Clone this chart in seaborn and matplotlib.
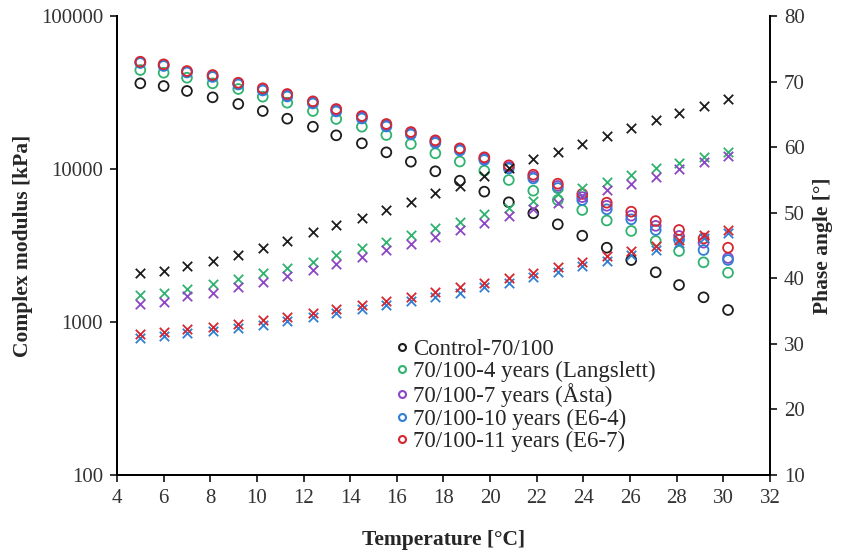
import matplotlib
matplotlib.use("Agg")
import matplotlib.pyplot as plt
from matplotlib.lines import Line2D
from matplotlib.ticker import FixedLocator, NullLocator, FixedFormatter
import seaborn as sns
import pandas as pd

# ---------------- data ----------------
temperature = [5.0, 6.0, 7.0, 8.1, 9.2, 10.25, 11.3, 12.4, 13.4, 14.5, 15.55, 16.6, 17.65,
               18.7, 19.75, 20.8, 21.85, 22.9, 23.95, 25.0, 26.05, 27.1, 28.1, 29.15, 30.2]

series_names = ["Control-70/100", "70/100-4 years (Langslett)", "70/100-7 years (Åsta)",
                "70/100-10 years (E6-4)", "70/100-11 years (E6-7)"]

mod_control = [36300, 34860, 32360, 29400, 26600, 23930, 21320, 18900, 16600, 14720, 12850, 11160, 9660,
               8385, 7110, 6060, 5135, 4350, 3665, 3060, 2540, 2113, 1745, 1450, 1198]
mod_4y = [44360, 42600, 39500, 36300, 33340, 29690, 27130, 23930, 21230, 18900, 16680, 14570, 12670,
          11190, 9750, 8475, 7215, 6270, 5395, 4607, 3935, 3383, 2911, 2455, 2100]
mod_7y = [49800, 47700, 43200, 40500, 36100, 33100, 30300, 27200, 24200, 21800, 19300, 17100, 15100,
          13400, 11700, 10300, 8900, 7750, 6550, 5750, 4950, 4250, 3650, 3300, 2620]
mod_10y = [49290, 47120, 42730, 39940, 35670, 32600, 29780, 26810, 23760, 21390, 18960, 16810, 14790,
           13210, 11460, 10080, 8670, 7510, 6270, 5452, 4691, 3994, 3436, 2955, 2542]
mod_11y = [50270, 48330, 43700, 41150, 36640, 33680, 30920, 27700, 24680, 22200, 19690, 17450, 15400,
           13650, 11930, 10570, 9180, 8015, 6866, 6022, 5260, 4570, 3994, 3514, 3059]

pa_control = [40.76, 41.16, 41.87, 42.68, 43.55, 44.57, 45.73, 47.01, 48.13, 49.15, 50.41, 51.68, 52.96,
              54.15, 55.6, 56.86, 58.15, 59.21, 60.43, 61.74, 62.87, 64.14, 65.25, 66.32, 67.34]
pa_4y = [37.45, 37.8, 38.37, 39.13, 39.84, 40.76, 41.61, 42.44, 43.55, 44.57, 45.58, 46.6, 47.62,
         48.63, 49.8, 50.79, 51.79, 52.78, 53.72, 54.73, 55.75, 56.77, 57.63, 58.45, 59.3]
pa_7y = [36.08, 36.43, 37.3, 37.8, 38.71, 39.48, 40.35, 41.26, 42.18, 43.29, 44.31, 45.23, 46.34,
         47.36, 48.48, 49.57, 50.64, 51.5, 52.5, 53.4, 54.4, 55.5, 56.6, 57.7, 58.7]
pa_10y = [30.85, 31.27, 31.65, 31.96, 32.42, 32.95, 33.41, 34.02, 34.63, 35.31, 35.93, 36.54, 37.22,
          37.8, 38.62, 39.33, 40.15, 41.0, 41.87, 42.68, 43.55, 44.31, 45.33, 46.1, 46.86]
pa_11y = [31.5, 31.85, 32.22, 32.52, 33.03, 33.64, 34.05, 34.66, 35.27, 35.93, 36.58, 37.19, 37.95,
          38.62, 39.23, 40.0, 40.85, 41.67, 42.53, 43.4, 44.16, 44.92, 45.84, 46.6, 47.36]

x_ticks = [4, 6, 8, 10, 12, 14, 16, 18, 20, 22, 24, 26, 28, 30, 32]
left_ticks = [100, 1000, 10000, 100000]
left_tick_labels = ["100", "1000", "10000", "100000"]
right_ticks = [10, 20, 30, 40, 50, 60, 70, 80]

colors = ["#1c1c1c", "#2fb36e", "#8c46c6", "#2f7fd4", "#d6262f"]
modulus = [mod_control, mod_4y, mod_7y, mod_10y, mod_11y]
phase = [pa_control, pa_4y, pa_7y, pa_10y, pa_11y]

# ---------------- style ----------------
sns.set_style("ticks")
plt.rcParams["font.family"] = ["Liberation Serif", "DejaVu Serif"]
plt.rcParams["axes.linewidth"] = 1.4

fig = plt.figure(figsize=(8.43, 5.55), dpi=100)
ax = fig.add_axes([117 / 843, 1 - 475 / 555, 653 / 843, 459 / 555])
ax2 = ax.twinx()

for name, c, mvals, pvals in zip(series_names, colors, modulus, phase):
    df = pd.DataFrame({"T": temperature, "G": mvals, "PA": pvals})
    sns.scatterplot(data=df, x="T", y="G", ax=ax, color=c, marker="o", s=50,
                    linewidth=1.3, legend=False)
    coll = ax.collections[-1]
    coll.set_facecolor("none")
    coll.set_edgecolor(c)
    coll.set_linewidth(1.3)
    sns.scatterplot(data=df, x="T", y="PA", ax=ax2, color=c, marker="x", s=46,
                    linewidth=1.3, legend=False)

ax.set_yscale("log")
ax.set_xlim(4, 32)
ax.set_ylim(100, 100000)
ax2.set_ylim(10, 80)

ax.xaxis.set_major_locator(FixedLocator(x_ticks))
ax.yaxis.set_major_locator(FixedLocator(left_ticks))
ax.yaxis.set_major_formatter(FixedFormatter(left_tick_labels))
ax.yaxis.set_minor_locator(NullLocator())
ax2.yaxis.set_major_locator(FixedLocator(right_ticks))

for a in (ax, ax2):
    a.spines["top"].set_visible(False)
    for s in ("left", "right", "bottom"):
        a.spines[s].set_color("black")
        a.spines[s].set_linewidth(1.4)
    a.tick_params(direction="out", length=5, width=1.2, labelsize=15, colors="#111111",
                  labelcolor="#333333", pad=5)
ax.spines["right"].set_visible(False)

ax.set_xlabel("Temperature [°C]", fontsize=15.5, fontweight="bold", labelpad=16)
ax.set_ylabel("Complex modulus [kPa]", fontsize=15.5, fontweight="bold", labelpad=6)
ax2.set_ylabel("Phase angle [°]", fontsize=15.5, fontweight="bold", labelpad=6)

handles = [Line2D([0], [0], linestyle="none", marker="o", markersize=5, markerfacecolor="none",
                  markeredgecolor=c, markeredgewidth=1.5) for c in colors]
ax2.legend(handles, series_names, loc="upper left",
           bbox_to_anchor=((396 - 117) / 653, (475 - 339) / 459),
           frameon=False, fontsize=16.5, handlelength=0.5, handletextpad=0.25,
           labelspacing=0.05, borderpad=0, borderaxespad=0)

fig.savefig("out.png", dpi=100)
